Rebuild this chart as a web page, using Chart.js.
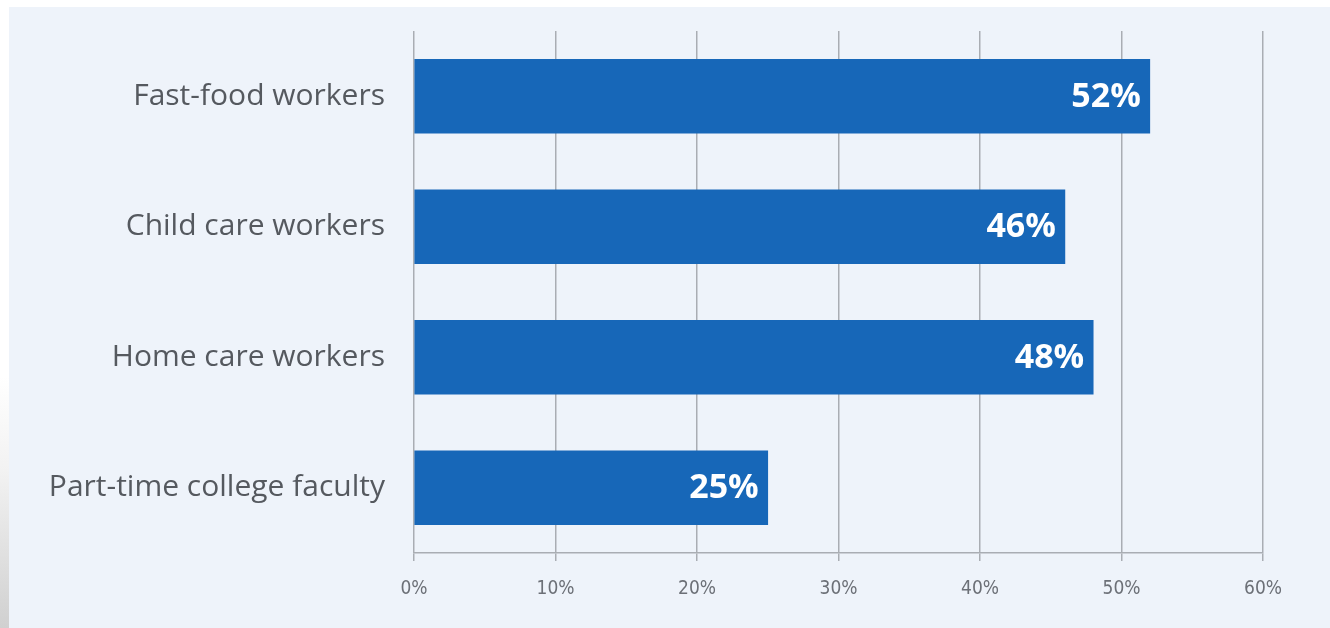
<!DOCTYPE html>
<html>
<head>
<meta charset="utf-8">
<script src="https://cdn.jsdelivr.net/npm/chart.js@4/dist/chart.umd.min.js"></script>
<style>
  html, body { margin: 0; padding: 0; background: #ffffff; width: 1330px; height: 628px; overflow: hidden; }
  #edge { position: absolute; left: 0; top: 0; width: 9px; height: 628px;
          background: linear-gradient(to bottom, #ffffff 0%, #ffffff 60%, #f2f2f2 75%, #d0d0d0 100%); }
  #wrap { position: absolute; left: 9px; top: 7px; width: 1321px; height: 621px; background: #eef3fa; }
</style>
</head>
<body>
<div id="edge"></div>
<div id="wrap"><canvas id="c" width="1321" height="621"></canvas></div>
<script>
const categories = ["Fast-food workers", "Child care workers", "Home care workers", "Part-time college faculty"];
const values = [52, 46, 48, 25];
const tickValues = [0, 10, 20, 30, 40, 50, 60];

const labelPlugin = {
  id: 'barLabels',
  afterDatasetsDraw(chart) {
    const ctx = chart.ctx;
    const meta = chart.getDatasetMeta(0);
    ctx.save();
    ctx.fillStyle = '#ffffff';
    ctx.font = 'bold 34px "Open Sans", sans-serif';
    ctx.textAlign = 'right';
    ctx.textBaseline = 'middle';
    meta.data.forEach((bar, i) => {
      ctx.fillText(values[i] + '%', bar.x - 9, bar.y + 1);
    });
    ctx.restore();
  }
};

new Chart(document.getElementById('c'), {
  type: 'bar',
  data: {
    labels: categories,
    datasets: [{
      data: values,
      backgroundColor: '#1767b8',
      borderWidth: 0,
      barThickness: 74
    }]
  },
  options: {
    indexAxis: 'y',
    responsive: false,
    animation: false,
    layout: { padding: { left: 0, right: 67, top: 24, bottom: 0 } },
    plugins: { legend: { display: false }, tooltip: { enabled: false } },
    scales: {
      x: {
        min: 0, max: 60,
        afterBuildTicks(scale) { scale.ticks = tickValues.map(v => ({ value: v })); },
        afterFit(scale) { scale.height = 621 - 546; scale.paddingLeft = 0; scale.paddingRight = 0; },
        grid: { color: '#a9adb3', lineWidth: 1.5, drawTicks: true, tickLength: 8, tickColor: '#a9adb3' },
        border: { display: true, color: '#a9adb3', width: 1.5 },
        ticks: {
          padding: 17,
          color: '#6c7077',
          font: { family: '"DejaVu Sans Condensed", "DejaVu Sans", sans-serif', size: 19 },
          callback: v => v + '%'
        }
      },
      y: {
        afterFit(scale) { scale.width = 405; scale.paddingTop = 0; scale.paddingBottom = 0; },
        grid: { display: false, drawTicks: false },
        border: { display: false },
        ticks: {
          padding: 29,
          color: '#55595f',
          font: { family: '"Open Sans", sans-serif', size: 30 }
        }
      }
    }
  },
  plugins: [labelPlugin]
});
</script>
</body>
</html>
